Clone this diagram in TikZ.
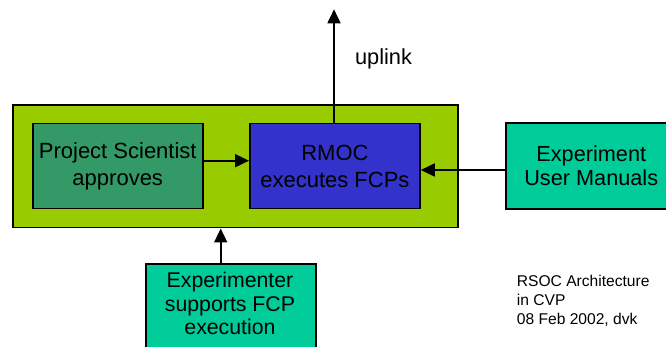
\documentclass[tikz,border=0pt]{standalone}
\usepackage{fontspec}
\setmainfont{Liberation Sans}
\usetikzlibrary{arrows.meta}
\definecolor{olive}{HTML}{99CC00}
\definecolor{psgreen}{HTML}{339966}
\definecolor{rmocblue}{HTML}{3333CC}
\definecolor{teal}{HTML}{00CC99}
\tikzset{
  block/.style={draw=black, line width=1.8pt, inner sep=0pt, anchor=north west},
  bigtext/.style={font=\fontsize{22}{26.7}\selectfont, align=center},
  arr/.style={line width=1.8pt, -{Triangle[length=14pt, width=13pt]}},
}
\begin{document}
\begin{tikzpicture}[x=1pt, y=-1pt]
\useasboundingbox (0,0) rectangle (666,347);

% enclosing ground segment block
\node[block, fill=olive, minimum width=445pt, minimum height=122.7pt] (ground) at (12,104) {};

\node[block, fill=psgreen, minimum width=170.3pt, minimum height=85pt, bigtext] (ps) at (31.7,122.7)
  {Project Scientist\\approves};
\node[block, fill=rmocblue, minimum width=170pt, minimum height=85pt, bigtext] (rmoc) at (249,122.7)
  {RMOC\\executes FCPs};

\node[block, fill=teal, minimum width=171.3pt, minimum height=86pt,
      font=\fontsize{21.7}{24}\selectfont, align=center] (eum) at (504.7,122.3)
  {Experiment\\User Manuals};

\node[block, fill=teal, minimum width=170pt, minimum height=95pt] (exp) at (145,263.3) {};
\node[font=\fontsize{21.3}{23.4}\selectfont, align=center, inner sep=0pt] (expt) at (230,303.5)
  {Experimenter\\supports FCP\\execution};

% connectors
\draw[arr] (ps.east |- 0,160.7) -- (rmoc.west |- 0,160.7);
\draw[arr] (eum.west |- 0,170) -- (rmoc.east |- 0,170);
\coordinate (up) at (334,9.3);
\draw[arr] (rmoc.north -| up) -- (up);
\draw[arr] (exp.north -| 220.7,0) -- (ground.south -| 220.7,0);

\node[font=\fontsize{21.8}{26}\selectfont, anchor=base, inner sep=0pt] (uplink) at (383.5,64.3) {uplink};

\node[font=\fontsize{15.6}{19.3}\selectfont, align=left, anchor=north west, inner sep=0pt] (note) at (516.7,274.5)
  {RSOC Architecture\\in CVP\\08 Feb 2002, dvk};
\end{tikzpicture}
\end{document}
